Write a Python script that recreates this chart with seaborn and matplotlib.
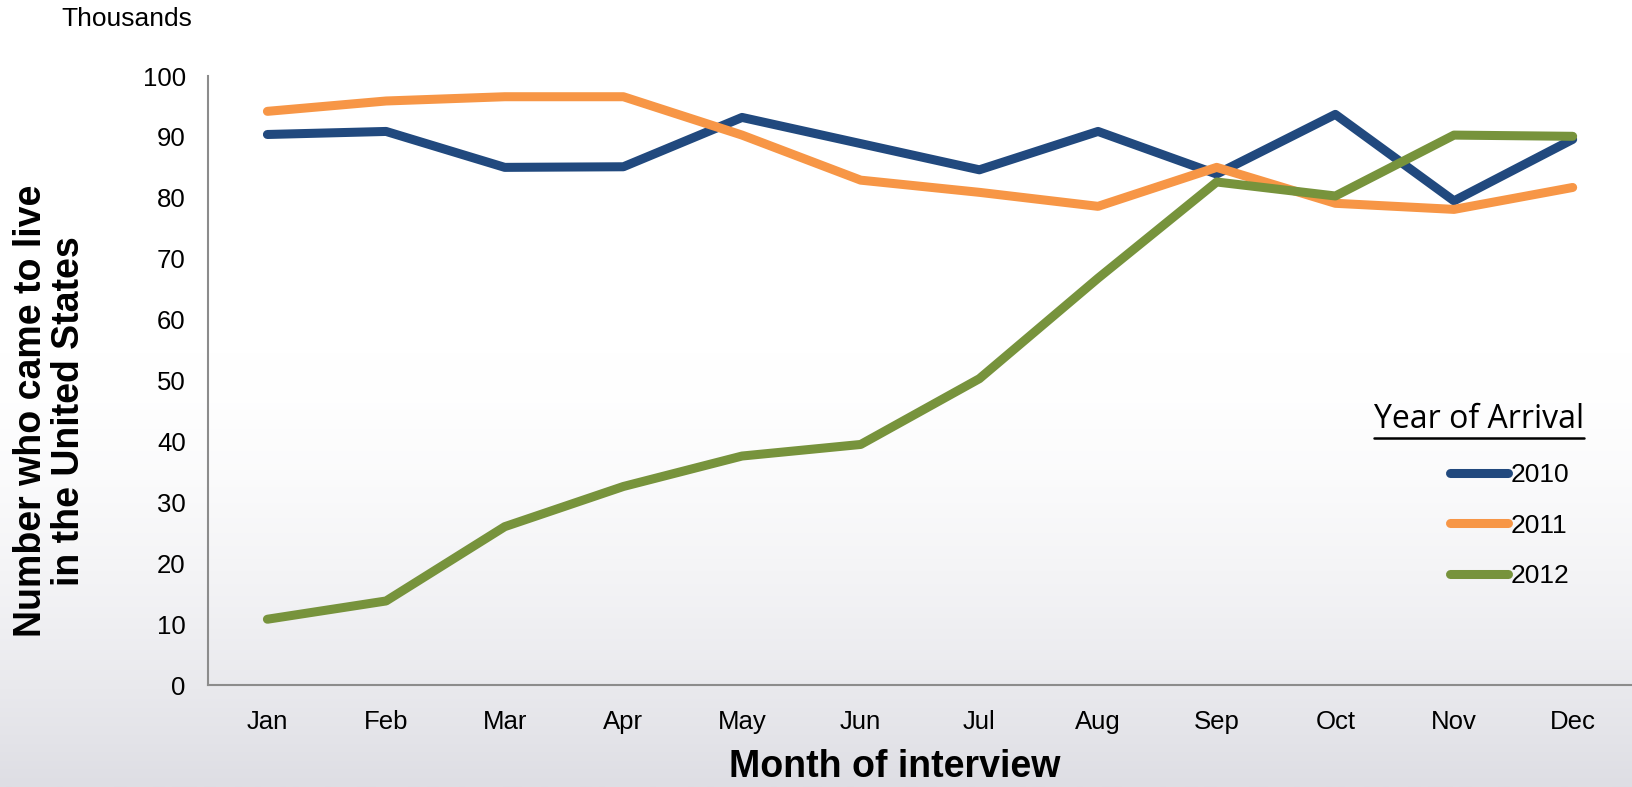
import numpy as np
import pandas as pd
import matplotlib
matplotlib.use("Agg")
import matplotlib.pyplot as plt
import seaborn as sns
from matplotlib.lines import Line2D

# Werte (Tausende)
months = ["Jan", "Feb", "Mar", "Apr", "May", "Jun", "Jul", "Aug", "Sep", "Oct", "Nov", "Dec"]
years = ["2010", "2011", "2012"]
arrivals_2010 = [90.4, 90.9, 85.0, 85.1, 93.2, 88.9, 84.6, 90.9, 83.9, 93.7, 79.5, 89.6]
arrivals_2011 = [94.2, 95.9, 96.6, 96.6, 90.3, 82.9, 80.9, 78.6, 85.0, 79.1, 78.1, 81.7]
arrivals_2012 = [10.8, 13.8, 26.0, 32.6, 37.6, 39.5, 50.3, 66.8, 82.6, 80.3, 90.3, 90.1]
colors = ["#21497E", "#F79646", "#77933C"]

df = pd.DataFrame({
    "month": months * 3,
    "year": np.repeat(years, len(months)),
    "value": arrivals_2010 + arrivals_2011 + arrivals_2012,
})

sns.set_style("white")
plt.rcParams["font.family"] = ["Liberation Sans", "DejaVu Sans"]
plt.rcParams["text.color"] = "black"
plt.rcParams["axes.labelcolor"] = "black"

fig = plt.figure(figsize=(16.32, 7.87), dpi=100)

# Hintergrund mit Verlauf (weiss oben, grau unten)
bg = fig.add_axes([0, 0, 1, 1], zorder=-10)
t = np.linspace(0, 1, 400)
top = np.array([1.0, 1.0, 1.0])
bottom = np.array([222, 222, 228]) / 255
w = (np.clip((t - 0.45) / 0.55, 0, 1) ** 1.6)[:, None]
grad = (1 - w) * top + w * bottom
bg.imshow(grad[:, None, :], aspect="auto", extent=[0, 1, 0, 1], origin="upper")
bg.axis("off")

ax = fig.add_axes([0.1275, 0.1296, 0.8725, 0.7738])
ax.set_facecolor("none")

sns.lineplot(data=df, x="month", y="value", hue="year", palette=colors,
             linewidth=6.5, ax=ax, legend=False, sort=False)
for ln in ax.get_lines():
    ln.set_solid_capstyle("round")
    ln.set_solid_joinstyle("round")

ax.set_xlim(-0.5, 11.5)
ax.set_ylim(0, 100)
ax.set_yticks(range(0, 101, 10))
ax.tick_params(axis="both", length=0, labelsize=18.5, colors="black")
ax.tick_params(axis="x", pad=18)
ax.tick_params(axis="y", pad=16)
for s in ["top", "right"]:
    ax.spines[s].set_visible(False)
for s in ["left", "bottom"]:
    ax.spines[s].set_color("#8c8c8c")
    ax.spines[s].set_linewidth(1.5)

ax.set_xlabel("")
ax.set_ylabel("")
fig.text(0.0306, 0.478, "Number who came to live\nin the United States", rotation=90,
         ha="center", va="center", fontsize=27, fontweight="bold", linespacing=1.1)
fig.text(0.548, 0.003, "Month of interview", ha="center", va="bottom",
         fontsize=27, fontweight="bold")
fig.text(0.118, 0.976, "Thousands", ha="right", va="center", fontsize=19)

handles = [Line2D([], [], color=c, linewidth=6.5, solid_capstyle="round") for c in colors]
ax.legend(handles, years, loc="center left", bbox_to_anchor=(0.8885, 0.332),
          bbox_transform=fig.transFigure, frameon=False, fontsize=19,
          handlelength=2.2, handletextpad=0.1, labelspacing=1.0,
          borderpad=0, borderaxespad=0)

title = fig.text(0.9705, 0.456, "Year of Arrival", ha="right", va="baseline",
                 fontsize=23, family=["Open Sans", "DejaVu Sans"])
fig.canvas.draw()
bb = title.get_window_extent().transformed(fig.transFigure.inverted())
fig.add_artist(Line2D([bb.x0, bb.x1], [0.443, 0.443], color="black", linewidth=1.8,
                      transform=fig.transFigure))

fig.savefig("out.png", dpi=100)
